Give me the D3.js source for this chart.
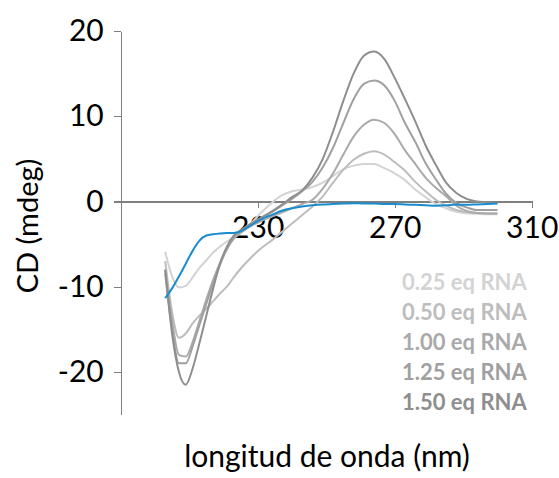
<!DOCTYPE html>
<html lang="es"><head>
<meta charset="utf-8">
<title>CD titration</title>
<script src="https://d3js.org/d3.v7.min.js"></script>
<style>
  body { margin: 0; background: #fff; }
  svg text { font-family: Lato, "Open Sans", sans-serif; }
  .axis path, .axis line { fill: none; stroke: #7f7f7f; stroke-width: 1.3; shape-rendering: crispEdges; }
  .axis text { font-size: 30px; fill: #000; }
</style>
</head>
<body>
<script>
// wavelengths (nm) shared by every curve
const wavelength = [203, 205, 207, 209, 211, 213, 215, 217, 219, 221, 223, 225, 228, 231, 234, 237, 240, 243, 246, 249,
                    252, 255, 258, 261, 264, 267, 270, 273, 276, 279, 282, 285, 288, 291, 294, 297, 300];

// CD signal (mdeg)
const cd000 = [-11.35, -10.2, -8.8, -7.3, -5.8, -4.6, -4.0, -3.85, -3.75, -3.7, -3.7, -3.5, -2.8, -2.1, -1.6, -1.1, -0.8, -0.6, -0.45, -0.35,
               -0.3, -0.25, -0.2, -0.25, -0.25, -0.3, -0.3, -0.35, -0.4, -0.45, -0.5, -0.45, -0.35, -0.4, -0.35, -0.3, -0.25];
const cd025 = [-5.9, -8.8, -10.1, -9.9, -8.9, -7.8, -6.9, -6.0, -5.3, -4.7, -4.2, -3.6, -2.6, -1.3, -0.2, 0.7, 1.2, 1.4, 1.7, 2.2,
               3.0, 3.8, 4.2, 4.4, 4.4, 3.9, 3.3, 2.5, 1.4, 0.5, -0.3, -0.8, -1.2, -1.4, -1.45, -1.5, -1.5];
const cd050 = [-7.0, -13.0, -16.0, -15.5, -14.3, -13.4, -12.6, -11.7, -10.8, -10.0, -8.9, -7.9, -6.6, -5.5, -4.6, -3.6, -2.6, -1.6, -0.6, 0.6,
               2.2, 3.7, 4.9, 5.6, 5.9, 5.5, 4.6, 3.6, 2.3, 1.2, 0.2, -0.5, -1.0, -1.25, -1.35, -1.4, -1.4];
const cd100 = [-8.0, -14.0, -18.0, -18.2, -16.5, -14.0, -11.5, -9.2, -7.2, -5.6, -4.4, -3.7, -2.9, -2.3, -1.8, -1.3, -0.8, -0.3, 0.2, 1.5,
               3.3, 5.5, 7.6, 9.0, 9.6, 9.2, 7.9, 6.0, 4.4, 2.8, 1.6, 0.6, -0.5, -1.1, -1.35, -1.4, -1.4];
const cd125 = [-8.5, -15.0, -19.0, -19.0, -17.0, -14.5, -12.0, -9.6, -7.4, -5.6, -4.2, -3.5, -2.7, -2.0, -1.3, -0.5, 0.3, 1.2, 2.3, 4.0,
               6.3, 9.2, 12.0, 13.8, 14.2, 13.6, 11.8, 9.2, 7.0, 4.5, 2.6, 0.9, -0.2, -0.7, -1.0, -1.0, -1.0];
const cd150 = [-8.0, -15.5, -20.0, -21.5, -19.6, -16.6, -13.4, -10.2, -7.3, -5.3, -4.0, -3.4, -2.6, -1.9, -1.2, -0.4, 0.5, 1.3, 2.8, 5.0,
               8.2, 11.8, 15.0, 17.1, 17.6, 16.7, 14.5, 12.0, 9.4, 6.6, 4.3, 2.2, 1.0, 0.3, 0.0, -0.1, -0.2];

const legendLabels = ["0.25 eq RNA", "0.50 eq RNA", "1.00 eq RNA", "1.25 eq RNA", "1.50 eq RNA"];
const xTicks = [230, 270, 310];
const yTicks = [-20, -10, 0, 10, 20];

const grays = ["#d3d3d3", "#bdbdbd", "#aaaaaa", "#a0a0a0", "#8e8e8e"];
const blue = "#1b8bcf";

const width = 559, height = 478;
const svg = d3.select("body").append("svg").attr("width", width).attr("height", height);

const x = d3.scaleLinear().domain([190, 310]).range([120.7, 531.7]);
const y = d3.scaleLinear().domain([-25, 20]).range([414.5, 31]);

// axes (plain hyphen for negatives, like the original)
const yAxis = d3.axisLeft(y).tickValues(yTicks).tickSize(7).tickSizeOuter(0).tickPadding(10)
  .tickFormat(d => String(d));
svg.append("g").attr("class", "axis").attr("transform", "translate(" + x(190) + ",0)").call(yAxis);

const xAxis = d3.axisBottom(x).tickValues(xTicks).tickSize(7).tickSizeOuter(0).tickPadding(8)
  .tickFormat(d => String(d));
const gx = svg.append("g").attr("class", "axis").attr("transform", "translate(0," + y(0) + ")").call(xAxis);
gx.selectAll("text").attr("dy", "0.72em");

// curves
const line = d3.line()
  .x((d, i) => x(wavelength[i]))
  .y(d => y(d))
  .curve(d3.curveMonotoneX);

const graySeries = [cd025, cd050, cd100, cd125, cd150];
svg.selectAll("path.gray")
  .data(graySeries)
  .enter()
  .append("path")
  .attr("class", "gray")
  .attr("d", line)
  .attr("fill", "none")
  .attr("stroke", (d, i) => grays[i])
  .attr("stroke-width", 2);

svg.append("path")
  .attr("d", line(cd000))
  .attr("fill", "none")
  .attr("stroke", blue)
  .attr("stroke-width", 2);

// legend (text only)
svg.selectAll("text.legend")
  .data(legendLabels)
  .enter()
  .append("text")
  .attr("class", "legend")
  .attr("x", 402)
  .attr("y", (d, i) => 290 + i * 30)
  .attr("font-size", "22px")
  .attr("font-weight", "bold")
  .attr("fill", (d, i) => grays[i])
  .text(d => d);

// axis titles
svg.append("text")
  .attr("x", 327)
  .attr("y", 467)
  .attr("text-anchor", "middle")
  .attr("font-size", "30px")
  .text("longitud de onda (nm)");

svg.append("text")
  .attr("transform", "translate(38,226) rotate(-90)")
  .attr("text-anchor", "middle")
  .attr("font-size", "29px")
  .text("CD (mdeg)");
</script>
</body></html>
